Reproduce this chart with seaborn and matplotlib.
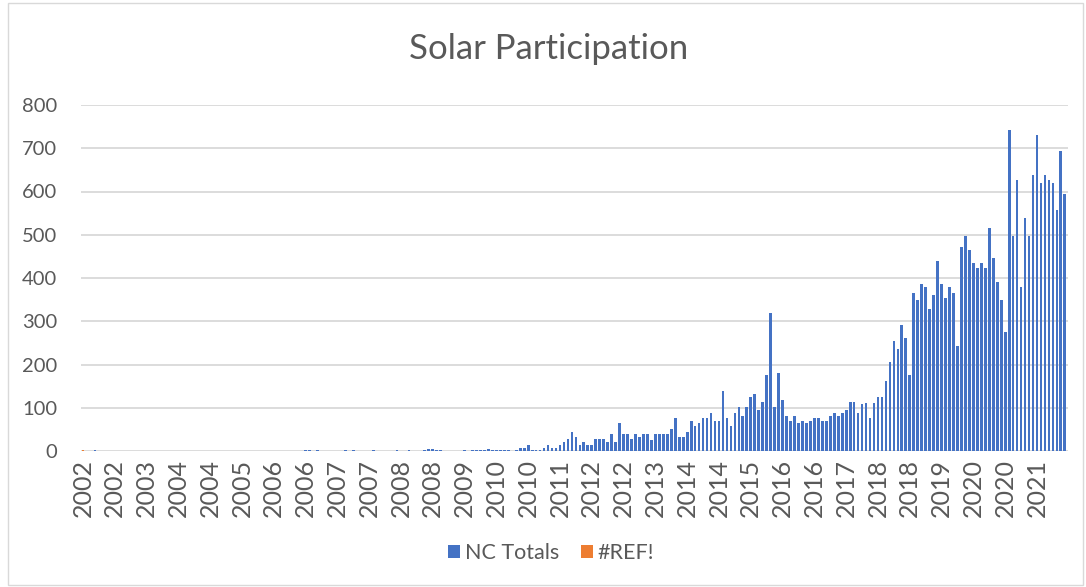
import matplotlib
matplotlib.use("Agg")
import matplotlib.pyplot as plt
import seaborn as sns
import pandas as pd
from matplotlib.patches import Patch, Rectangle

# ---- data (monthly NC totals) ----
nc_totals = [
    # 2002 .. 2010 (almost nothing)
    0, 0, 0, 3, 0, 0, 0, 0, 0, 0,
    0, 0, 0, 0, 0, 0, 0, 0, 0, 0,
    0, 0, 0, 0, 0, 0, 0, 0, 0, 0,
    0, 0, 0, 0, 0, 0, 0, 0, 0, 0,
    0, 0, 0, 0, 0, 0, 0, 0, 0, 0,
    0, 0, 0, 0, 0, 0, 3, 3, 0, 3,
    0, 0, 0, 0, 0, 0, 3, 0, 3, 0,
    0, 0, 0, 2, 0, 0, 0, 0, 0, 2,
    0, 0, 2, 0, 0, 0, 3, 4, 5, 3,
    2, 0, 0, 0, 0, 0, 2, 0, 3, 3,
    3, 3, 4, 3, 3, 3, 3, 3, 0, 3,
    # 2011 .. 2013
    6, 8, 14, 3, 2, 3, 8, 15, 8, 8,
    14, 21, 27, 45, 33, 15, 21, 15, 15, 27,
    27, 27, 21, 39, 21, 64, 39, 39, 27, 39,
    33,
    # 2013 .. 2015
    39, 39, 26, 39, 39, 39, 39, 51, 76, 33,
    33, 45, 70, 57, 64, 76, 76, 88, 70, 70,
    138, 76, 57, 88, 101, 82, 101, 126, 132,
    # 2015 .. 2017
    95, 113, 175, 318, 101, 181, 119, 82, 70, 82,
    64, 70, 64, 70, 76, 76, 70, 70, 82, 88,
    82, 88, 95, 113, 113, 88,
    # 2017 .. 2021
    108, 112, 76, 112, 125, 125, 162, 205, 255, 236,
    292, 261, 175, 366, 348, 385, 379, 329, 360, 440,
    385, 354, 379, 366, 243, 471, 496, 465, 434, 422,
    434, 422, 515, 447, 391, 348, 274, 743, 496, 626,
    379, 539, 496, 638, 731, 620, 638, 626, 620, 558,
    694, 595,
]
ref_index = [0]
ref_values = [3]

year_labels = ["2002", "2002", "2003", "2004", "2004", "2005", "2006", "2006",
               "2007", "2007", "2008", "2008", "2009", "2010", "2010", "2011",
               "2012", "2012", "2013", "2014", "2014", "2015", "2016", "2016",
               "2017", "2018", "2018", "2019", "2020", "2020", "2021"]
y_ticks = [0, 100, 200, 300, 400, 500, 600, 700, 800]

series_names = ["NC Totals", "#REF!"]
title = "Solar Participation"

BLUE = "#4472C4"
ORANGE = "#ED7D31"
GREY_TXT = "#595959"
GRID = "#D9D9D9"

months = list(range(len(nc_totals)))
df = pd.DataFrame({"month": months, "value": nc_totals})
df_ref = pd.DataFrame({"month": ref_index, "value": ref_values})

sns.set_style("white")
plt.rcParams["font.family"] = ["Lato", "DejaVu Sans"]

W, H = 1086, 587
fig = plt.figure(figsize=(W / 100, H / 100), dpi=100)
ax = fig.add_axes([81 / W, 1 - 451 / H, (1068 - 81) / W, (451 - 105) / H])

sns.barplot(data=df, x="month", y="value", order=months, color=BLUE,
            saturation=1, width=0.68, linewidth=0, ax=ax, errorbar=None)
sns.barplot(data=df_ref, x="month", y="value", order=months, color=ORANGE,
            saturation=1, width=0.68, linewidth=0, ax=ax, errorbar=None)

ax.set_xlim(-0.5, len(months) - 0.2)
ax.set_ylim(0, 800)
ax.set_yticks(y_ticks)
ax.set_yticklabels([str(v) for v in y_ticks])
ax.set_xticks(months[::8])
ax.set_xticklabels(year_labels, rotation=90)
ax.set_xlabel("")
ax.set_ylabel("")

ax.tick_params(axis="y", length=0, pad=17, labelsize=14.5, labelcolor=GREY_TXT)
ax.tick_params(axis="x", length=0, pad=6, labelsize=18, labelcolor=GREY_TXT)

for s in ax.spines.values():
    s.set_visible(False)
ax.set_axisbelow(True)
ax.yaxis.grid(True, color=GRID, linewidth=1.3)
ax.xaxis.grid(False)

fig.text(549 / W, 1 - 49 / H, title, ha="center", va="center",
         fontsize=25, color=GREY_TXT)

handles = [Patch(facecolor=BLUE, edgecolor="none"),
           Patch(facecolor=ORANGE, edgecolor="none")]
fig.legend(handles, series_names, loc="center", bbox_to_anchor=(551 / W, 1 - 553 / H),
           ncol=2, frameon=False, fontsize=15.5, labelcolor=GREY_TXT,
           handlelength=0.6, handleheight=0.6, handletextpad=0.2, columnspacing=1.0)

fig.patches.append(Rectangle((8 / W, 2 / H), (1083 - 8) / W, (584 - 2) / H,
                             transform=fig.transFigure, fill=False,
                             edgecolor=GRID, linewidth=1))

fig.savefig("out.png", dpi=100, facecolor="white")
